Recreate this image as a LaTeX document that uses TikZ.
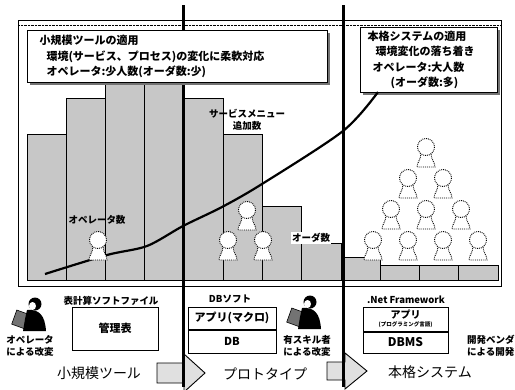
\documentclass[tikz,border=0pt]{standalone}
\usepackage{fontspec}
\setmainfont{Noto Sans CJK JP}
\usetikzlibrary{positioning, arrows.meta, shadows}

% small round figure standing for one person
\tikzset{
  staff/.pic={
    \draw[densely dotted, line width=0.9pt, fill=white] (-5,6) .. controls (-5,13) and (-9,15) .. (-9,20) -- (9,20) .. controls (9,15) and (5,13) .. (5,6);
    \draw[densely dotted, line width=0.9pt, fill=white] (0,0) circle (8.5);
  },
  worker/.pic={
    % keyboard held in front
    \draw[fill=black!55, line width=0.6pt, rotate around={-20:(8,22)}] (1,15) rectangle (15,30);
    % body, head and face
    \fill[black] (14,13) .. controls (26,12) and (32,18) .. (33,34) -- (10,34) -- (12,22) -- cycle;
    \fill[black] (22,7) circle (6.5);
    \fill[white] (19.5,9) ellipse (3.5 and 4);
  }
}

\begin{document}
\begin{tikzpicture}[x=1pt, y=-1pt,
  bar/.style={draw, line width=0.9pt, fill=black!22},
  divider/.style={line width=3pt},
  callout/.style={draw, line width=1.2pt, fill=white, align=left, anchor=north west,
    font=\fontsize{11}{15.5}\selectfont\bfseries,
    drop shadow={shadow xshift=2pt, shadow yshift=-2pt, fill=black!55, opacity=1}},
  tag/.style={font=\fontsize{9.5}{12.5}\selectfont\bfseries, inner sep=1pt, align=center},
  stackbox/.style={draw, line width=1pt, fill=white, font=\fontsize{11}{12}\selectfont\bfseries, align=center, inner sep=1pt},
  phase/.style={font=\fontsize{14}{16}\selectfont},
  phasearrow/.style={draw, line width=0.9pt, fill=black!12}
]
\useasboundingbox (0,0) rectangle (515,389);

% ===== Chart frame =====
\draw[line width=0.9pt] (18,20) rectangle (501,286);
\draw[densely dotted] (18,25) -- (501,25);

% bars for each step, left to right
\foreach \top [count=\i from 0] in {134,98,82,82,98,134,206,243,257,265,265,265}
  \draw[bar] ({27+39.25*\i},\top) rectangle ({27+39.25*(\i+1)},280);

% ===== Phase dividers =====
\draw[divider] (183,5) -- (183,387);
\draw[divider] (343,5) -- (343,387);

% ===== Callouts =====
\node[callout, minimum width=300pt, minimum height=52pt, text width=286pt, inner sep=3pt] (small) at (27,30)
  {\hspace*{5pt}小規模ツールの適用\\
   \hspace*{12pt}環境(サービス、プロセス)の変化に柔軟対応\\
   \hspace*{12pt}オペレータ:少人数(オーダ数:少)};
\node[callout, minimum width=137pt, minimum height=65pt, text width=131pt, inner sep=3pt] (full) at (360,27)
  {\hspace*{4pt}本格システムの適用\\
   \hspace*{12pt}環境変化の落ち着き\\
   \hspace*{9pt}オペレータ:大人数\\
   \hspace*{27pt}(オーダ数:多)};

% operator count curve
\draw[line width=2.2pt] plot[smooth, tension=0.5] coordinates
  {(45,274) (107,255) (147,246) (183,226) (222,207) (262,184) (343,131) (378,92)};

% ===== Operators =====
\foreach \px/\py in {98/240, 247/210, 228/240, 263/240,
                     426/147, 408/178, 443/178, 391/209, 426/209, 461/209,
                     373/240, 408/240, 443/240, 478/240}
  \pic at (\px,\py) {staff};

% chart labels
\node[tag] (opcount) at (97,220) {オペレータ数};
\node[tag] (menu) at (247,120) {サービスメニュー\\追加数};
\node[tag, fill=white] (orders) at (311,238) {オーダ数};

% ===== Tools per phase =====
\pic at (13,297) {worker};
\node[tag] (byop) at (30,346) {オペレータ\\による改変};

\node[tag] (sheetsw) at (111,301) {表計算ソフトファイル};
\node[stackbox, minimum width=86pt, minimum height=43pt] (sheet) at (115,328.5) {管理表};

\node[tag] (dbsw) at (230,299) {DBソフト};
\node[stackbox, minimum width=88pt, minimum height=22pt] (macro) at (232,318) {アプリ(マクロ)};
\node[stackbox, minimum width=88pt, minimum height=23pt, below=0pt of macro] (db) {DB};

\pic at (288,295) {worker};
\node[tag] (byskill) at (307,346) {有スキル者\\による改変};

\node[tag] (netfw) at (406,300) {.Net Framework};
\node[stackbox, minimum width=85pt, minimum height=24pt, font=\fontsize{10}{10}\selectfont\bfseries] (app) at (405.5,319)
  {アプリ\\[-2pt]{\fontsize{5.5}{6}\selectfont (プログラミング言語)}};
\node[stackbox, minimum width=85pt, minimum height=21pt, font=\fontsize{12}{12}\selectfont\bfseries, below=0pt of app] (dbms) {DBMS};

\node[tag, anchor=west, align=left] (vendor) at (466,346) {開発ベンダ\\による開発};

% ===== Phase names and arrows =====
\draw[phasearrow] (157,363) -- (184,363) -- (184,354) -- (205,373) -- (184,392) -- (184,383) -- (157,383) -- cycle;
\draw[phasearrow] (327,362) -- (345,362) -- (345,353) -- (367,371) -- (345,389) -- (345,380) -- (327,380) -- cycle;
\draw[divider] (183,354) -- (183,387);
\draw[divider] (343,353) -- (343,387);

\node[phase] (tool) at (99,373) {小規模ツール};
\node[phase] (proto) at (265,374) {プロトタイプ};
\node[phase] (system) at (430,372) {本格システム};

\end{tikzpicture}
\end{document}
